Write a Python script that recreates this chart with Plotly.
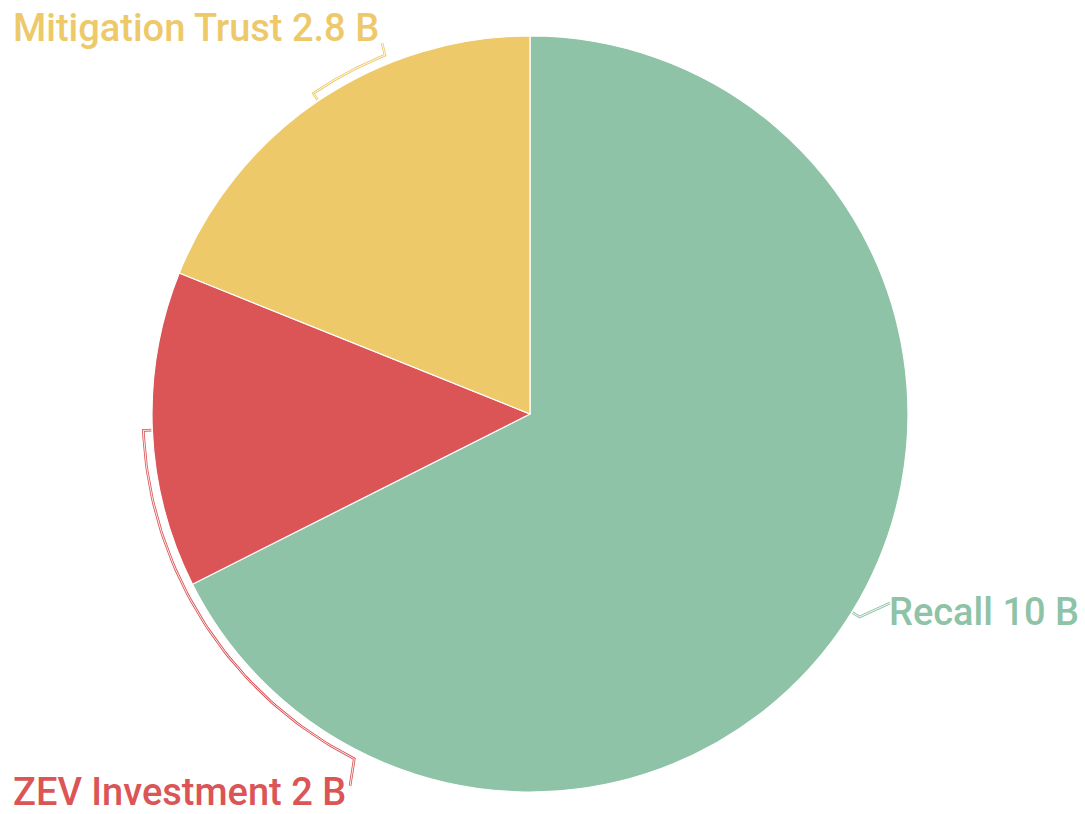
import math
import plotly.graph_objects as go

# Data
labels = ["Recall", "ZEV Investment", "Mitigation Trust"]
values = [10, 2, 2.8]
units = "B"
colors = ["#8FC3A7", "#DB5456", "#EDC96A"]

# Layout / style parameters (pixel space)
W, H = 1085, 814
CX, CY, R = 530, 414, 378
GAP = 9
# angle (deg clockwise from 12 o'clock) where each leader arc ends, and label anchor
leader_end_angle = [None, 207, 338]
label_anchor = [(890, 603), (350, 786), (382, 43)]
label_pos = [(888, 612), (12, 792), (12, 28)]

fig = go.Figure()
fig.add_trace(go.Pie(
    labels=labels, values=values, sort=False, direction="clockwise", rotation=0,
    marker=dict(colors=colors, line=dict(color="white", width=1.2)),
    textinfo="none", hoverinfo="label+value", showlegend=False,
    domain=dict(x=[(CX - R) / W, (CX + R) / W], y=[(H - CY - R) / H, (H - CY + R) / H]),
))

def pt(angle, r):
    a = math.radians(angle)
    return CX + r * math.sin(a), CY - r * math.cos(a)

total = sum(values)
start = 0.0
for i, v in enumerate(values):
    span = 360.0 * v / total
    mid = start + span / 2
    start += span
    pts = [pt(mid, R + 1), pt(mid, R + GAP)]
    end = leader_end_angle[i]
    if end is not None:
        n = 60
        for k in range(1, n + 1):
            a = mid + (end - mid) * k / n
            pts.append(pt(a, R + GAP))
    pts.append(label_anchor[i])
    xs = [p[0] for p in pts]
    ys = [p[1] for p in pts]
    fig.add_trace(go.Scatter(x=xs, y=ys, mode="lines", line=dict(color=colors[i], width=2.6),
                             hoverinfo="skip", showlegend=False))
    fig.add_trace(go.Scatter(x=xs, y=ys, mode="lines", line=dict(color="white", width=0.9),
                             hoverinfo="skip", showlegend=False))
    fig.add_annotation(x=label_pos[i][0], y=label_pos[i][1], xref="x", yref="y",
                       text=f"{labels[i]} {v:g} {units}", showarrow=False,
                       xanchor="left", yanchor="middle", borderpad=0,
                       font=dict(family="Roboto", size=38, weight=500, color=colors[i]))

fig.update_layout(
    width=W, height=H, margin=dict(l=0, r=0, t=0, b=0),
    paper_bgcolor="white", plot_bgcolor="rgba(0,0,0,0)",
    xaxis=dict(range=[0, W], visible=False, fixedrange=True),
    yaxis=dict(range=[H, 0], visible=False, fixedrange=True),
)
fig.write_html("out.html", config={"displayModeBar": False},
               post_script="document.body.style.margin='0';document.body.style.overflow='hidden';")
